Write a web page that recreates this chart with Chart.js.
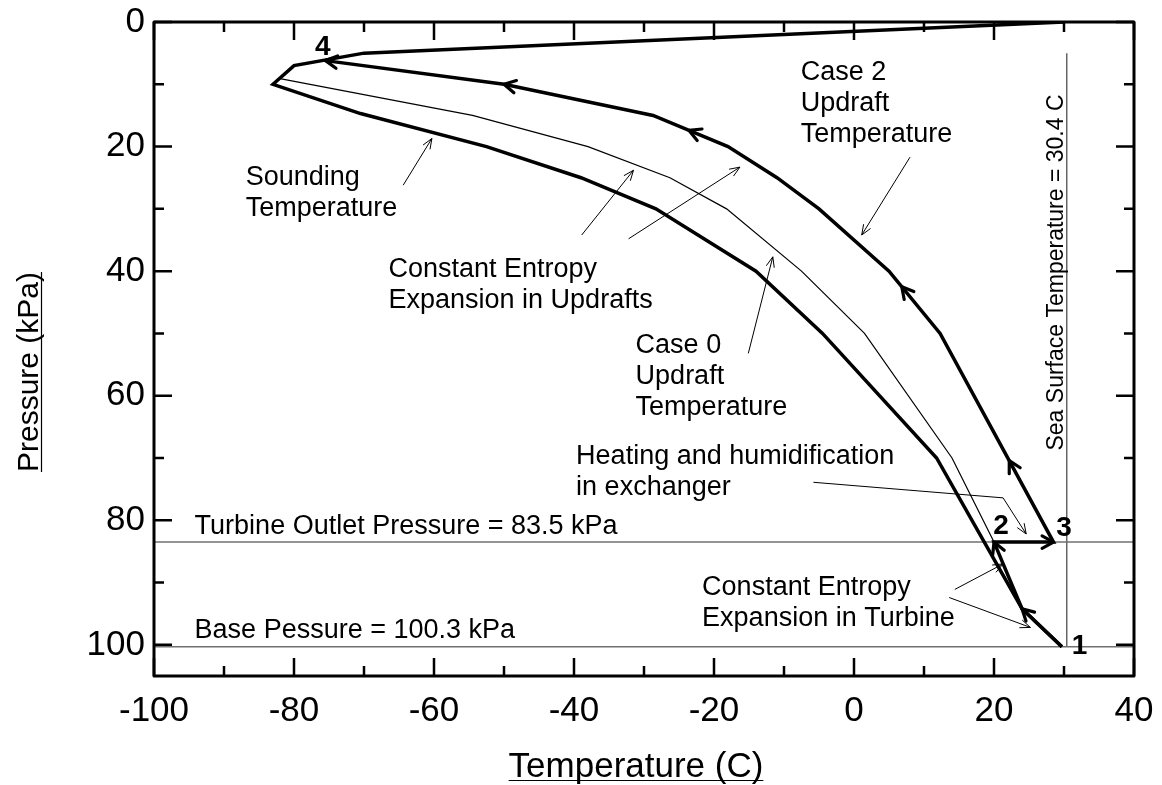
<!DOCTYPE html>
<html>
<head>
<meta charset="utf-8">
<script src="https://cdn.jsdelivr.net/npm/chart.js"></script>
<style>
  html, body { margin: 0; padding: 0; background: #fff; }
  #wrap { width: 1162px; height: 785px; }
</style>
</head>
<body>
<div id="wrap"><canvas id="c" width="1162" height="785"></canvas></div>
<script>
// axes
const xTicks = [-100, -80, -60, -40, -20, 0, 20, 40];
const xMinor = [-90, -70, -50, -30, -10, 10, 30];
const yTicks = [0, 20, 40, 60, 80, 100];
const yMinor = [10, 30, 50, 70, 90];

// sounding temperature (thick, lower curve + stratosphere)
const soundT = [30, -70, -80, -83, -70.5, -52.5, -39, -28.3, -14, -4.5, 11.8, 24, 29.7];
const soundP = [0, 5, 7, 10, 14.7, 20, 25, 30, 40, 50, 70, 94.2, 100.3];

// case 0 updraft temperature (thin)
const case0T = [-82, -54.5, -38, -26.3, -18.2, -7.5, 1.5, 14, 20, 24];
const case0P = [9.1, 15, 20, 25, 30, 40, 50, 70, 83.5, 94.2];

// case 2 path 1 -> 2 -> 3 -> 4
const case2T = [29.7, 24, 20, 28.5, 12.3, 5, -5, -11, -18, -28.7, -50, -75.5];
const case2P = [100.3, 94.2, 83.5, 83.5, 50, 40, 30, 25, 20, 15, 10, 6.2];

// arrow heads along case 2 path (segment index, position on segment)
const headSeg = [0, 1, 2, 3, 4, 8, 9, 10];
const headFrac = [1, 1, 1, 0.39, 0.75, 0.52, 1, 1];

// reference lines
const turbineP = 83.5;
const baseP = 100.3;
const seaT = 30.4;
const seaTopP = 5;

// label arrows (polyline, head at the last point)
const noteArrowT = [[-64.4, -60.3], [-38.9, -31.5], [-32.2, -16.3], [-15.1, -11.6], [8.0, 1.1], [-5.8, 21.3, 24.6], [14.4, 21.3], [13.6, 25.2]];
const noteArrowP = [[26.2, 18.7], [34.2, 23.8], [34.8, 23.3], [53.2, 37.7], [21.7, 34.2], [73.9, 76.4, 82.2], [91.1, 87.0], [92.4, 97.2]];

// label texts (left edge, first baseline)
const noteText = [
  ['Turbine Outlet Pressure = 83.5 kPa'],
  ['Base Pessure = 100.3 kPa'],
  ['Sounding', 'Temperature'],
  ['Constant Entropy', 'Expansion in Updrafts'],
  ['Case 0', 'Updraft', 'Temperature'],
  ['Heating and humidification', 'in exchanger'],
  ['Constant Entropy', 'Expansion in Turbine'],
  ['Case 2', 'Updraft', 'Temperature']
];
const noteT = [-94.2, -94.2, -86.9, -66.5, -31.2, -39.7, -21.7, -7.6];
const noteP = [82.2, 98.9, 26.2, 41.0, 53.1, 71.0, 92.0, 9.3];

// state point numbers
const numText = ['1', '2', '3', '4'];
const numT = [31.1, 19.9, 28.9, -77];
const numP = [101.4, 82.2, 82.6, 5.3];

const seaText = 'Sea Surface Temperature = 30.4 C';
const seaTextT = 29.9;
const seaTextP = 68.8;

const FONT = "'Liberation Sans', Arial, sans-serif";

function pts(xs, ys) { return xs.map((v, i) => ({ x: v, y: ys[i] })); }

function head(ctx, x, y, ang, len, half) {
  ctx.beginPath();
  ctx.moveTo(x - len * Math.cos(ang - half), y - len * Math.sin(ang - half));
  ctx.lineTo(x, y);
  ctx.lineTo(x - len * Math.cos(ang + half), y - len * Math.sin(ang + half));
  ctx.stroke();
}

const decor = {
  id: 'decor',
  afterDatasetsDraw(chart) {
    const ctx = chart.ctx, xs = chart.scales.x, ys = chart.scales.y, a = chart.chartArea;
    const X = v => xs.getPixelForValue(v), Y = v => ys.getPixelForValue(v);
    ctx.save();
    ctx.strokeStyle = '#000';
    ctx.fillStyle = '#000';

    // arrow heads on the case 2 path
    ctx.lineWidth = 3.2;
    ctx.lineCap = 'round';
    ctx.lineJoin = 'round';
    headSeg.forEach((s, i) => {
      const x0 = X(case2T[s]), y0 = Y(case2P[s]);
      const x1 = X(case2T[s + 1]), y1 = Y(case2P[s + 1]);
      const f = headFrac[i];
      head(ctx, x0 + (x1 - x0) * f, y0 + (y1 - y0) * f, Math.atan2(y1 - y0, x1 - x0), 13, 0.5);
    });

    // label arrows
    ctx.lineWidth = 1;
    ctx.lineCap = 'butt';
    noteArrowT.forEach((ts, i) => {
      const ps = noteArrowP[i];
      ctx.beginPath();
      ts.forEach((t, j) => {
        if (j === 0) ctx.moveTo(X(t), Y(ps[j])); else ctx.lineTo(X(t), Y(ps[j]));
      });
      ctx.stroke();
      const n = ts.length;
      const xa = X(ts[n - 2]), ya = Y(ps[n - 2]), xb = X(ts[n - 1]), yb = Y(ps[n - 1]);
      head(ctx, xb, yb, Math.atan2(yb - ya, xb - xa), 11, 0.38);
    });

    // label texts
    ctx.font = '27px ' + FONT;
    ctx.textAlign = 'left';
    ctx.textBaseline = 'alphabetic';
    noteText.forEach((lines, i) => {
      lines.forEach((s, j) => ctx.fillText(s, X(noteT[i]), Y(noteP[i]) + j * 31));
    });

    // state numbers
    ctx.font = 'bold 28px ' + FONT;
    numText.forEach((s, i) => ctx.fillText(s, X(numT[i]), Y(numP[i])));

    // sea surface label
    ctx.save();
    ctx.font = '23px ' + FONT;
    ctx.translate(X(seaTextT), Y(seaTextP));
    ctx.rotate(-Math.PI / 2);
    ctx.fillText(seaText, 0, 0);
    ctx.restore();

    // frame with inward ticks on all sides
    ctx.lineWidth = 3;
    ctx.lineCap = 'square';
    ctx.strokeRect(a.left, a.top, a.right - a.left, a.bottom - a.top);
    ctx.lineWidth = 2.5;
    ctx.lineCap = 'butt';
    const tick = (vals, len) => {
      vals.forEach(v => {
        const x = X(v);
        ctx.beginPath();
        ctx.moveTo(x, a.bottom); ctx.lineTo(x, a.bottom - len);
        ctx.moveTo(x, a.top); ctx.lineTo(x, a.top + len);
        ctx.stroke();
      });
    };
    const ytick = (vals, len) => {
      vals.forEach(v => {
        const y = Y(v);
        ctx.beginPath();
        ctx.moveTo(a.left, y); ctx.lineTo(a.left + len, y);
        ctx.moveTo(a.right, y); ctx.lineTo(a.right - len, y);
        ctx.stroke();
      });
    };
    tick(xTicks, 18); tick(xMinor, 10);
    ytick(yTicks, 18); ytick(yMinor, 10);

    // axis titles, underlined
    ctx.lineWidth = 1.2;
    ctx.font = '35px ' + FONT;
    ctx.textAlign = 'center';
    const xt = 'Temperature (C)';
    const xw = ctx.measureText(xt).width;
    const xc = (a.left + a.right) / 2 - 8;
    ctx.fillText(xt, xc, 777);
    ctx.beginPath(); ctx.moveTo(xc - xw / 2, 780.5); ctx.lineTo(xc + xw / 2, 780.5); ctx.stroke();

    ctx.save();
    ctx.font = '30px ' + FONT;
    ctx.translate(38, 372);
    ctx.rotate(-Math.PI / 2);
    const yt = 'Pressure (kPa)';
    const yw = ctx.measureText(yt).width;
    ctx.fillText(yt, 0, 0);
    ctx.beginPath(); ctx.moveTo(-yw / 2, 3.5); ctx.lineTo(yw / 2, 3.5); ctx.stroke();
    ctx.restore();

    ctx.restore();
  }
};

const line = (data, w, color, order) => ({
  data, showLine: true, borderColor: color, borderWidth: w,
  pointRadius: 0, tension: 0, fill: false, order
});

new Chart(document.getElementById('c'), {
  type: 'scatter',
  data: {
    datasets: [
      line(pts(soundT, soundP), 3.5, '#000', 1),
      line(pts(case0T, case0P), 1.2, '#000', 1),
      line(pts(case2T, case2P), 3.5, '#000', 1),
      line(pts([-100, 40], [turbineP, turbineP]), 1.5, '#707070', 2),
      line(pts([-100, 40], [baseP, baseP]), 1.5, '#707070', 2),
      line(pts([seaT, seaT], [seaTopP, baseP]), 1.2, '#404040', 2)
    ]
  },
  options: {
    responsive: false,
    animation: false,
    layout: { padding: { top: 22, right: 28, left: 0, bottom: 0 } },
    plugins: { legend: { display: false }, tooltip: { enabled: false } },
    scales: {
      x: {
        type: 'linear', min: -100, max: 40,
        afterFit: s => { s.height = 109; s.paddingLeft = 0; s.paddingRight = 0; },
        afterBuildTicks: s => { s.ticks = xTicks.map(v => ({ value: v })); },
        grid: { display: false, drawTicks: false },
        border: { display: false },
        ticks: { color: '#000', padding: 14, font: { size: 35, family: FONT } }
      },
      y: {
        type: 'linear', min: 0, max: 105, reverse: true,
        afterFit: s => { s.width = 154; s.paddingTop = 0; s.paddingBottom = 0; },
        afterBuildTicks: s => { s.ticks = yTicks.map(v => ({ value: v })); },
        grid: { display: false, drawTicks: false },
        border: { display: false },
        ticks: { color: '#000', padding: 9, font: { size: 35, family: FONT } }
      }
    }
  },
  plugins: [decor]
});
</script>
</body>
</html>
